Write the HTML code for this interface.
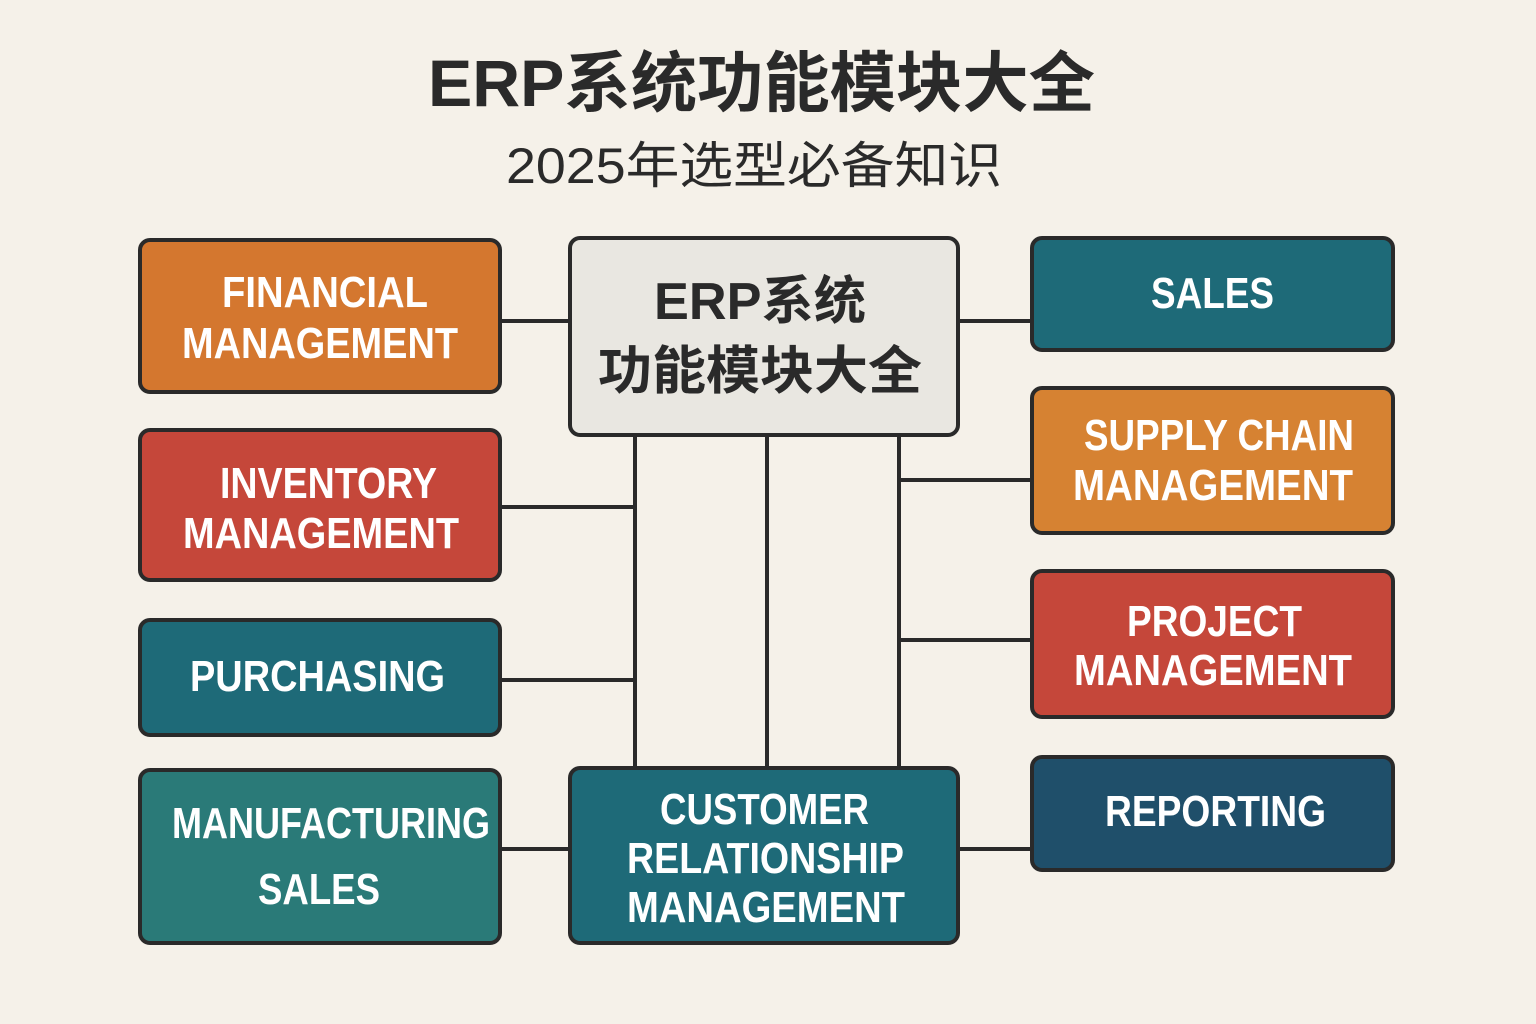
<!DOCTYPE html>
<html><head><meta charset="utf-8"><style>
html,body{margin:0;padding:0;background:#f5f1e9;}
svg{display:block}
.t{font-family:"Liberation Sans","Noto Sans CJK SC",sans-serif;font-weight:bold;fill:#fff;font-size:44px}
.c{font-family:"Liberation Sans","Noto Sans CJK SC",sans-serif;fill:#2a2a2a}
</style></head><body>
<svg width="1536" height="1024" viewBox="0 0 1536 1024" xmlns="http://www.w3.org/2000/svg">
<rect width="1536" height="1024" fill="#f5f1e9"/>
<text class="c" x="428" y="106" font-size="66" font-weight="bold" textLength="667" lengthAdjust="spacingAndGlyphs">ERP系统功能模块大全</text>
<text class="c" x="506" y="183" font-size="50" textLength="496" lengthAdjust="spacingAndGlyphs">2025年选型必备知识</text>
<g stroke="#2a2a2a" stroke-width="4" fill="none">
<line x1="500" y1="321" x2="570" y2="321"/>
<line x1="958" y1="321" x2="1032" y2="321"/>
<line x1="635" y1="435" x2="635" y2="768"/>
<line x1="767" y1="435" x2="767" y2="768"/>
<line x1="899" y1="435" x2="899" y2="768"/>
<line x1="500" y1="507" x2="635" y2="507"/>
<line x1="500" y1="680" x2="635" y2="680"/>
<line x1="500" y1="849" x2="570" y2="849"/>
<line x1="899" y1="480" x2="1032" y2="480"/>
<line x1="899" y1="640" x2="1032" y2="640"/>
<line x1="958" y1="849" x2="1032" y2="849"/>
</g>
<g stroke="#2a2a2a" stroke-width="4">
<rect x="140" y="240" width="360" height="152" rx="10" fill="#d4772f"/>
<rect x="140" y="430" width="360" height="150" rx="10" fill="#c5473a"/>
<rect x="140" y="620" width="360" height="115" rx="10" fill="#1e6a78"/>
<rect x="140" y="770" width="360" height="173" rx="10" fill="#2a7a78"/>
<rect x="570" y="238" width="388" height="197" rx="10" fill="#e9e7e1"/>
<rect x="570" y="768" width="388" height="175" rx="10" fill="#1e6a78"/>
<rect x="1032" y="238" width="361" height="112" rx="10" fill="#1e6a78"/>
<rect x="1032" y="388" width="361" height="145" rx="10" fill="#d68232"/>
<rect x="1032" y="571" width="361" height="146" rx="10" fill="#c5473a"/>
<rect x="1032" y="757" width="361" height="113" rx="10" fill="#1f4f6a"/>
</g>
<g class="t" lengthAdjust="spacingAndGlyphs">
<text class="t" x="222" y="307" textLength="206" lengthAdjust="spacingAndGlyphs">FINANCIAL</text>
<text class="t" x="182" y="358" textLength="276" lengthAdjust="spacingAndGlyphs">MANAGEMENT</text>
<text class="t" x="220" y="498" textLength="217" lengthAdjust="spacingAndGlyphs">INVENTORY</text>
<text class="t" x="183" y="548" textLength="276" lengthAdjust="spacingAndGlyphs">MANAGEMENT</text>
<text class="t" x="190" y="691" textLength="255" lengthAdjust="spacingAndGlyphs">PURCHASING</text>
<text class="t" x="172" y="838" textLength="318" lengthAdjust="spacingAndGlyphs">MANUFACTURING</text>
<text class="t" x="258" y="904" textLength="122" lengthAdjust="spacingAndGlyphs">SALES</text>
<text class="t" x="660" y="824" textLength="209" lengthAdjust="spacingAndGlyphs">CUSTOMER</text>
<text class="t" x="627" y="873" textLength="277" lengthAdjust="spacingAndGlyphs">RELATIONSHIP</text>
<text class="t" x="627" y="922" textLength="278" lengthAdjust="spacingAndGlyphs">MANAGEMENT</text>
<text class="t" x="1151" y="308" textLength="123" lengthAdjust="spacingAndGlyphs">SALES</text>
<text class="t" x="1084" y="450" textLength="270" lengthAdjust="spacingAndGlyphs">SUPPLY CHAIN</text>
<text class="t" x="1073" y="500" textLength="280" lengthAdjust="spacingAndGlyphs">MANAGEMENT</text>
<text class="t" x="1127" y="636" textLength="175" lengthAdjust="spacingAndGlyphs">PROJECT</text>
<text class="t" x="1074" y="685" textLength="278" lengthAdjust="spacingAndGlyphs">MANAGEMENT</text>
<text class="t" x="1105" y="826" textLength="221" lengthAdjust="spacingAndGlyphs">REPORTING</text>
</g>
<text class="c" x="654" y="319" font-size="52" font-weight="bold" textLength="212" lengthAdjust="spacingAndGlyphs">ERP系统</text>
<text class="c" x="598" y="389" font-size="52" font-weight="bold" textLength="324" lengthAdjust="spacingAndGlyphs">功能模块大全</text>
</svg>
</body></html>
